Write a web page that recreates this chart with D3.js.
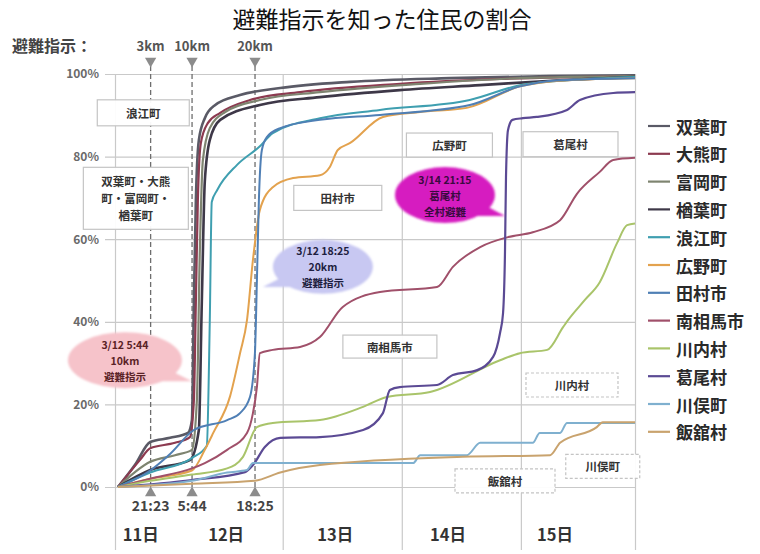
<!DOCTYPE html>
<html>
<head>
<meta charset="utf-8">
<script src="https://cdn.jsdelivr.net/npm/d3@7"></script>
<style>
  body { margin: 0; background: #fff; }
  svg { display: block; font-family: "Noto Sans CJK JP", "Noto Sans", sans-serif; }
</style>
</head>
<body>
<svg id="chart" width="760" height="554"></svg>
<script>
// Time is in hours counted from 3/11 00:00; values are % of residents aware of the order.
const chartTitle = "避難指示を知った住民の割合";
const hourStart = 14.2, hourEnd = 119;
const yTicks = [0, 20, 40, 60, 80, 100];
const dayBounds = [14.2, 48, 72, 96, 119];
const dayLabels = ["11日", "12日", "13日", "14日", "15日"];
const dayLabelHours = [19.4, 36.6, 58.6, 81.3, 102.9];
const orderHours = [21.38, 29.73, 42.42];
const orderTimes = ["21:23", "5:44", "18:25"];
const orderRadii = ["3km", "10km", "20km"];

const names = ["双葉町", "大熊町", "富岡町", "楢葉町", "浪江町", "広野町",
               "田村市", "南相馬市", "川内村", "葛尾村", "川俣町", "飯舘村"];

const futaba = [[14.8,0],[18.2,5.3],[21.3,10.9],[25.3,11.9],[28.9,13.1],[29.7,16.2],[30.1,45],[30.5,69.5],[31.1,84],[32.3,89.3],[34.4,92.5],[39.4,94.9],[47.5,96.6],[61.6,98.1],[81.7,99],[101.9,99.5],[119,99.7]];
const okuma = [[14.8,0],[19.2,6.5],[21.3,9.4],[26.3,10.7],[29.3,12.1],[30.1,21],[30.5,45],[30.9,69.5],[31.5,83.3],[32.9,88.1],[35.4,90.6],[41.4,93.7],[51.5,95.6],[71.6,97.6],[91.8,98.8],[119,99.5]];
const tomioka = [[14.8,0],[21.3,6.1],[26.3,7.7],[29.7,9],[30.7,21],[31.3,57.4],[31.9,79],[33.3,86.9],[36.4,90.8],[43.4,93.7],[55.5,95.6],[75.7,97.6],[95.8,99],[119,99.5]];
const naraha = [[14.8,0],[21.3,4.1],[29.3,6.5],[31.1,13.8],[31.7,45],[32.3,74],[33.3,84],[35.4,88.9],[43.4,92.5],[55.5,94.4],[71.6,96.1],[87.8,97.3],[103.9,98.5],[119,99.3]];
const namie = [[14.8,0],[21.3,3.5],[29.7,7],[32.7,10],[33.3,40],[33.7,69],[34.8,71.9],[38.8,78],[43.4,82.5],[46.0,85.7],[55.5,89.3],[67.6,91.3],[85.7,93.7],[95.8,97.3],[105.3,98.5],[119,99.3]];
const hirono = [[14.8,0],[21.3,2],[29.7,4],[32.3,9],[34.0,13.1],[37.4,22],[39.4,32.4],[40.8,40.4],[42.0,55],[43.4,67.1],[46.0,72.6],[50.1,74.8],[55.5,75.5],[57.5,77.5],[59.1,81.6],[61.6,83.3],[68.2,89.6],[75.7,90.8],[85.1,91.8],[95.8,97],[105.3,98.5],[119,99]];
const tamura = [[14.8,0],[21.3,4],[25.3,8],[30.1,13.8],[36.8,16.2],[39.4,17.9],[41.4,21.8],[42.4,32.4],[42.8,50],[43.2,69.5],[43.8,81.6],[44.8,84.7],[47.5,86.9],[55.5,88.9],[67.6,90.1],[85.7,92.5],[95.8,97],[103.9,98.5],[119,99]];
const minamisoma = [[14.8,0],[21.3,2],[29.7,4.5],[32.3,5.8],[36.8,9],[40.8,13.1],[42.0,17.9],[42.8,24.2],[43.4,32.4],[46.0,33.2],[51.5,33.9],[55.5,36.3],[60.1,43.6],[67.6,47.2],[79.1,48.4],[82.3,53.3],[87.8,58.1],[93.4,60.5],[98.4,61.7],[103.9,64.6],[107.3,71],[111.9,76.3],[114.6,79.2],[119,79.7]];
const kawauchi = [[14.8,0],[21.3,1.5],[29.7,3],[36.8,4.5],[40.0,7.3],[42.8,14.5],[46.0,15.5],[55.5,16.2],[64.2,19.4],[69.0,21.8],[77.7,23.0],[91.8,30.7],[95.8,32.4],[101.3,33.2],[104.5,38.7],[105.5,40.4],[108.9,45.3],[111.9,49.6],[115.4,59.1],[117.4,63.4],[119,63.8]];
const katsurao = [[14.8,0],[29.7,1.7],[40.4,3.6],[42.0,5.3],[44.4,9.7],[47.5,11.9],[55.5,12.1],[64.2,13.8],[68.2,17.9],[69.6,23.5],[71.6,24.2],[79.1,24.7],[82.3,27.1],[87.2,28.3],[90.4,31.5],[91.8,37.3],[92.4,42],[92.8,57],[93.0,75],[93.4,86.4],[94.3,88.9],[96.4,89.3],[99.2,89.6],[105.3,91.3],[107.9,93.7],[114.6,95.4],[119,95.6]];
const kawamata = [[14.8,0],[29.7,1.5],[36.8,3.5],[40.8,4.1],[42.0,5.8],[74.3,5.8],[75.7,7.7],[85.1,7.7],[87.8,10.7],[98.4,10.7],[99.8,13.1],[103.9,13.1],[105.3,15.5],[119,15.5]];
const iitate = [[14.8,0],[29.7,0.8],[42.4,1.5],[47.5,3.5],[55.5,5.3],[84.3,7.3],[101.9,7.7],[103.9,10.7],[111.3,14.5],[112.5,15.7],[119,15.7]];

const seriesValues = [futaba, okuma, tomioka, naraha, namie, hirono,
                      tamura, minamisoma, kawauchi, katsurao, kawamata, iitate];
const colors = ["#5a5a66", "#8c3a50", "#7e8470", "#3e3848", "#3f9fb0", "#e3a24e",
                "#4f7fb5", "#a0506a", "#a9c46a", "#5b4a94", "#7fb0cf", "#c9a36e"];
const widths = [2.6, 2.2, 2.2, 2.6, 2, 2, 2, 2, 2, 2.2, 2, 2];

// Area labels: [text lines, hour, percent, box width, box height, dashed border]
const areaLabels = [
  [["浪江町"], 19.9, 90.6, 92, 26, false],
  [["双葉町・大熊", "町・富岡町・", "楢葉町"], 18.4, 69.9, 105, 62, false],
  [["田村市"], 59.1, 70.0, 88, 25, false],
  [["広野町"], 81.6, 82.8, 86, 24, false],
  [["葛尾村"], 106.0, 83.0, 95, 25, false],
  [["南相馬市"], 69.6, 34.0, 94, 23, false],
  [["川内村"], 106.3, 24.7, 92, 24, true],
  [["飯舘村"], 92.8, 1.5, 100, 24, true],
  [["川俣町"], 112.5, 5.0, 74, 24, true]
];

// Speech bubbles: [text lines, hour, percent, rx, ry, fill, text colour, tail side]
const bubbles = [
  [["3/12 5:44", "10km", "避難指示"], 16.2, 30.7, 57, 28, "#f6c3ca", "#5a2226", "right"],
  [["3/12 18:25", "20km", "避難指示"], 56.1, 53.3, 50, 27, "#c8c8f2", "#1e1e40", "left"],
  [["3/14 21:15", "葛尾村", "全村避難"], 80.7, 70.7, 50, 28, "#d61fc0", "#3a0a40", "right"]
];

const svg = d3.select("#chart");
const FONT = '"Noto Sans CJK JP", "Noto Sans", sans-serif';
const x = d3.scaleLinear().domain([hourStart, hourEnd]).range([115, 635]);
const y = d3.scaleLinear().domain([0, 100]).range([487, 74]);

const defs = svg.append("defs");
defs.append("filter").attr("id", "soft")
  .attr("x", "-20%").attr("y", "-30%").attr("width", "140%").attr("height", "160%")
  .append("feGaussianBlur").attr("stdDeviation", 1.3);

// Title
svg.append("text")
  .attr("x", 382).attr("y", 28).attr("text-anchor", "middle")
  .attr("font-size", 23).attr("fill", "#111")
  .text(chartTitle);

// Horizontal grid with percentage labels
const gy = svg.append("g")
  .attr("transform", "translate(105,0)")
  .call(d3.axisLeft(y).tickValues(yTicks).tickSize(-(635 - 105)).tickPadding(6).tickFormat(d => d + "%"));
gy.attr("font-family", FONT);
gy.select(".domain").remove();
gy.selectAll(".tick line").attr("stroke", "#c9c9c9").attr("stroke-width", 1.2);
gy.selectAll(".tick text").attr("font-size", 12).attr("font-weight", "bold").attr("fill", "#6a6a6a");

// Day boundary lines
const gx = svg.append("g")
  .attr("transform", `translate(0,${y(100)})`)
  .call(d3.axisBottom(x).tickValues(dayBounds).tickSize(550 - y(100)).tickFormat(""));
gx.select(".domain").remove();
gx.selectAll(".tick line").attr("stroke", "#c9c9c9").attr("stroke-width", 1.2);

// Day labels
svg.append("g").selectAll("text").data(dayLabels).join("text")
  .attr("x", (d, i) => x(dayLabelHours[i])).attr("y", 541)
  .attr("text-anchor", "middle").attr("font-size", 16.5).attr("font-weight", "bold").attr("fill", "#333")
  .text(d => d);

// Evacuation order markers
const orders = svg.append("g");
orders.selectAll("line").data(orderHours).join("line")
  .attr("x1", d => x(d)).attr("x2", d => x(d))
  .attr("y1", 66).attr("y2", y(0))
  .attr("stroke", "#6e6e6e").attr("stroke-width", 1.3).attr("stroke-dasharray", "5,3");
orders.selectAll("path.top").data(orderHours).join("path").attr("class", "top")
  .attr("d", d3.symbol(d3.symbolTriangle, 55))
  .attr("transform", d => `translate(${x(d)},61) rotate(180)`)
  .attr("fill", "#8c8c8c");
orders.selectAll("path.bot").data(orderHours).join("path").attr("class", "bot")
  .attr("d", d3.symbol(d3.symbolTriangle, 55))
  .attr("transform", d => `translate(${x(d)},${y(0) + 6})`)
  .attr("fill", "#8c8c8c");
orders.selectAll("text.r").data(orderRadii).join("text").attr("class", "r")
  .attr("x", (d, i) => x(orderHours[i])).attr("y", 51)
  .attr("text-anchor", "middle").attr("font-size", 13).attr("font-weight", "bold").attr("fill", "#555")
  .text(d => d);
orders.selectAll("text.t").data(orderTimes).join("text").attr("class", "t")
  .attr("x", (d, i) => x(orderHours[i])).attr("y", 511)
  .attr("text-anchor", "middle").attr("font-size", 14).attr("font-weight", "bold").attr("fill", "#444")
  .text(d => d);
svg.append("text")
  .attr("x", 12).attr("y", 52)
  .attr("font-size", 16).attr("font-weight", "bold").attr("fill", "#444")
  .text("避難指示：");

// Area label boxes
const boxes = svg.append("g");
areaLabels.forEach(([lines, h, p, w, bh, dashed]) => {
  const cx = x(h), cy = y(p);
  boxes.append("rect")
    .attr("x", cx - w / 2).attr("y", cy - bh / 2).attr("width", w).attr("height", bh)
    .attr("fill", "#fff").attr("fill-opacity", 0.95)
    .attr("stroke", "#c4c4c4").attr("stroke-width", 1.2)
    .attr("stroke-dasharray", dashed ? "3,2" : null);
  const lh = 17;
  lines.forEach((t, i) => {
    boxes.append("text")
      .attr("x", cx).attr("y", cy + (i - (lines.length - 1) / 2) * lh)
      .attr("text-anchor", "middle").attr("dominant-baseline", "central")
      .attr("font-size", 11.5).attr("font-weight", "bold").attr("fill", "#333")
      .text(t);
  });
});

// Series lines
const line = d3.line()
  .x(d => x(d[0])).y(d => y(d[1]))
  .curve(d3.curveMonotoneX);
svg.append("g").selectAll("path").data(seriesValues).join("path")
  .attr("d", line)
  .attr("fill", "none")
  .attr("stroke", (d, i) => colors[i])
  .attr("stroke-width", (d, i) => widths[i])
  .attr("stroke-linejoin", "round");

// Speech bubbles
bubbles.forEach(([lines, h, p, rx, ry, fill, tc, side]) => {
  const cx = x(h), cy = y(p);
  const g = svg.append("g");
  const shape = g.append("g").attr("filter", "url(#soft)");
  shape.append("ellipse").attr("cx", cx).attr("cy", cy).attr("rx", rx).attr("ry", ry).attr("fill", fill);
  const s = side === "right" ? 1 : -1;
  const tail = d3.path();
  tail.moveTo(cx + s * rx * 0.78, cy + ry * 0.35);
  tail.lineTo(cx + s * (rx + 10), cy + ry * 0.75);
  tail.lineTo(cx + s * rx * 0.55, cy + ry * 0.75);
  tail.closePath();
  shape.append("path").attr("d", tail.toString()).attr("fill", fill);
  lines.forEach((t, i) => {
    g.append("text")
      .attr("x", cx).attr("y", cy + (i - 1) * 16)
      .attr("text-anchor", "middle").attr("dominant-baseline", "central")
      .attr("font-size", 10.5).attr("font-weight", "bold").attr("fill", tc)
      .text(t);
  });
});

// Legend
const legend = svg.append("g");
names.forEach((n, i) => {
  const ly = 126 + i * 27.8;
  legend.append("line")
    .attr("x1", 648).attr("x2", 670).attr("y1", ly).attr("y2", ly)
    .attr("stroke", colors[i]).attr("stroke-width", 2.2);
  legend.append("text")
    .attr("x", 676).attr("y", ly).attr("dominant-baseline", "central")
    .attr("font-size", 17).attr("font-weight", "bold").attr("fill", "#2a2a2a")
    .text(n);
});
</script>
</body>
</html>
